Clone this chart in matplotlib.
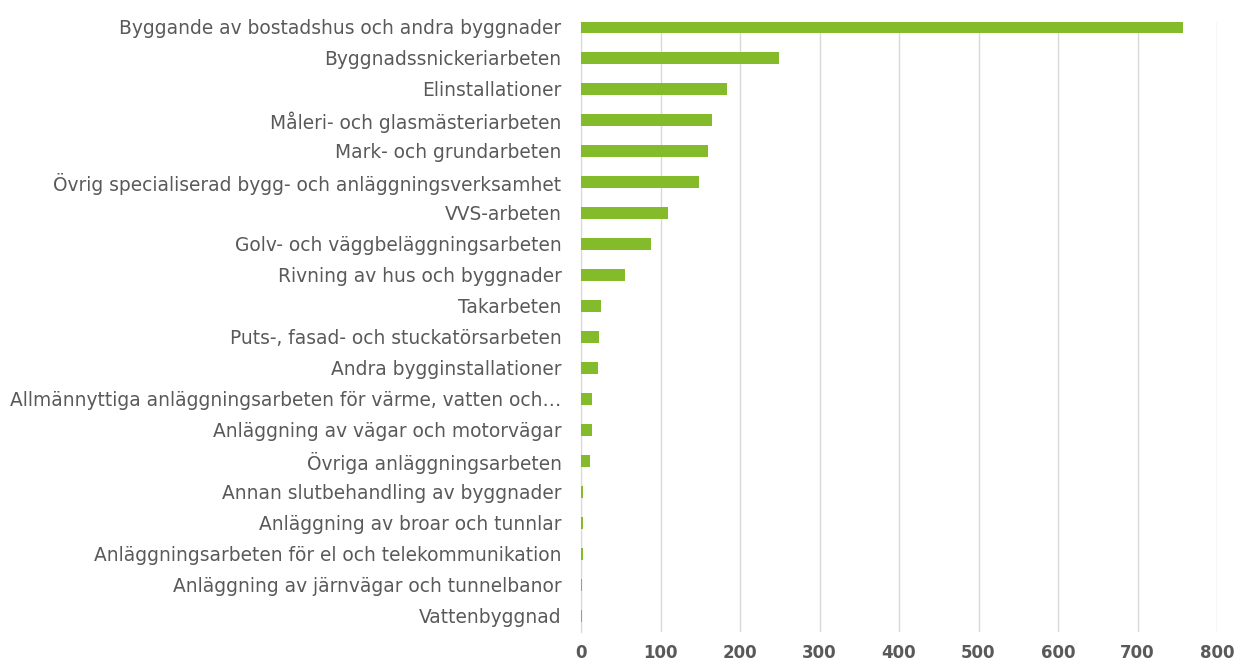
import numpy as np
import matplotlib.pyplot as plt

# ---- DATA ----
categories = [
    "Byggande av bostadshus och andra byggnader",
    "Byggnadssnickeriarbeten",
    "Elinstallationer",
    "Måleri- och glasmästeriarbeten",
    "Mark- och grundarbeten",
    "Övrig specialiserad bygg- och anläggningsverksamhet",
    "VVS-arbeten",
    "Golv- och väggbeläggningsarbeten",
    "Rivning av hus och byggnader",
    "Takarbeten",
    "Puts-, fasad- och stuckatörsarbeten",
    "Andra bygginstallationer",
    "Allmännyttiga anläggningsarbeten för värme, vatten och…",
    "Anläggning av vägar och motorvägar",
    "Övriga anläggningsarbeten",
    "Annan slutbehandling av byggnader",
    "Anläggning av broar och tunnlar",
    "Anläggningsarbeten för el och telekommunikation",
    "Anläggning av järnvägar och tunnelbanor",
    "Vattenbyggnad",
]
values = [757, 249, 184, 165, 160, 148, 109, 88, 55, 25,
          23, 21, 14, 14, 11, 2, 2, 2, 1, 1]
xticks = [0, 100, 200, 300, 400, 500, 600, 700, 800]

# ---- PLOT ----
W, H = 1239, 664
fig = plt.figure(figsize=(W / 100, H / 100), dpi=100)
# axes box in pixels: left 581, right 1217, top 22, bottom 632
ax = fig.add_axes([581 / W, 1 - 632 / H, (1217 - 581) / W, (632 - 22) / H])

y = np.arange(len(categories))
ax.barh(y, values, height=0.37, color="#84bb2a", zorder=3)

ax.set_ylim(len(categories) - 0.48, -0.16)
ax.set_xlim(0, 800)
ax.set_yticks(y)
ax.set_yticklabels(categories, fontsize=13.4, color="#595959")
ax.set_xticks(xticks)
ax.set_xticklabels([str(t) for t in xticks], fontsize=12,
                   fontweight="bold", color="#595959")

ax.grid(axis="x", color="#d9d9d9", linewidth=1, zorder=0)
for s in ["top", "right", "bottom"]:
    ax.spines[s].set_visible(False)
ax.spines["left"].set_color("#d9d9d9")
ax.tick_params(axis="both", length=0)
ax.tick_params(axis="y", pad=14)
ax.tick_params(axis="x", pad=9)

fig.savefig("out.png", dpi=100)
